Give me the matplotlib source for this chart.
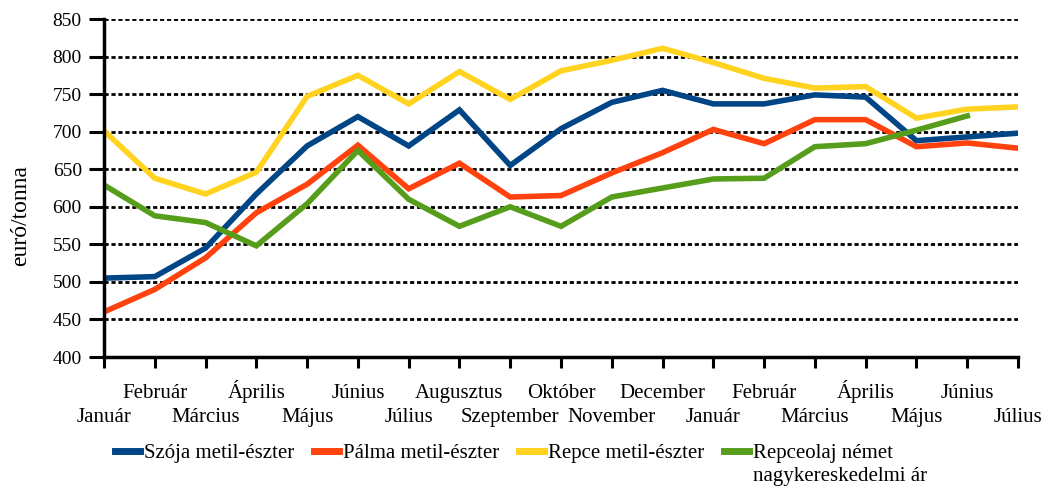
import numpy as np
import matplotlib.pyplot as plt

plt.rcParams['font.family'] = ['Liberation Serif', 'DejaVu Serif']

months = ['Január', 'Február', 'Március', 'Április', 'Május', 'Június', 'Július',
          'Augusztus', 'Szeptember', 'Október', 'November', 'December',
          'Január', 'Február', 'Március', 'Április', 'Május', 'Június', 'Július']

szoja = [505, 507, 545, 617, 681, 720, 681, 729, 655, 704, 739, 755,
         737, 737, 749, 746, 688, 693, 698]
palma = [460, 490, 532, 592, 630, 682, 624, 658, 613, 615, 645, 672,
         703, 684, 716, 716, 680, 685, 678]
repce = [701, 638, 617, 646, 747, 775, 737, 780, 743, 781, 795, 811,
         792, 771, 758, 760, 718, 730, 733]
repceolaj = [629, 588, 579, 548, 604, 675, 610, 574, 600, 574, 613, 625,
             637, 638, 680, 684, 702, 721]

names = ['Szója metil-észter', 'Pálma metil-észter', 'Repce metil-észter',
         'Repceolaj német']
colors = ['#004586', '#ff420e', '#ffd320', '#579d1c']

fig = plt.figure(figsize=(10.46, 4.87), dpi=100)
ax = fig.add_axes([104/1046, 1 - 357/487, 914/1046, 338/487])

for name, vals, col in zip(names, [szoja, palma, repce, repceolaj], colors):
    ax.plot(np.arange(len(vals)), vals, color=col, lw=4, label=name,
            solid_joinstyle='miter')

ax.set_xlim(0, len(months) - 1)
ax.set_ylim(400, 850)
ax.set_yticks(np.arange(400, 851, 50))
ax.yaxis.grid(True, color='black', linestyle=(0, (1.5, 1.0)), linewidth=2)
ax.set_axisbelow(True)

# month labels on two rows: even months on major ticks (lower row),
# odd months on minor ticks (upper row)
idx = np.arange(len(months))
ax.set_xticks(idx[::2])
ax.set_xticklabels(months[::2], fontsize=15, va='baseline')
ax.set_xticks(idx[1::2], minor=True)
ax.set_xticklabels(months[1::2], minor=True, fontsize=15, va='baseline')
ax.tick_params(axis='x', which='major', length=8, width=2.2, pad=38.5)
ax.tick_params(axis='x', which='minor', length=8, width=2.2, pad=21.3)
ax.tick_params(axis='y', length=11, width=2.2, labelsize=14, pad=5)

for s in ['top', 'right']:
    ax.spines[s].set_visible(False)
for s in ['left', 'bottom']:
    ax.spines[s].set_linewidth(2.5)

fig.text(21/1046, 1 - 216/487, 'euró/tonna', rotation=90, ha='center', va='center',
         fontsize=17)

leg = ax.legend(loc='center left', bbox_to_anchor=(0.012, -0.285), ncol=4, frameon=False,
                fontsize=15, handlelength=1.2, handletextpad=0.2, columnspacing=0.94,
                borderaxespad=0, borderpad=0)
for h in leg.legend_handles:
    h.set_linewidth(5)

# second line of the last legend label, under its first line
fig.canvas.draw()
bb = leg.get_texts()[-1].get_window_extent().transformed(fig.transFigure.inverted())
fig.text(bb.x0, bb.y0 - 4/487, 'nagykereskedelmi ár', ha='left', va='top', fontsize=15)

fig.savefig('out.png', dpi=100)
